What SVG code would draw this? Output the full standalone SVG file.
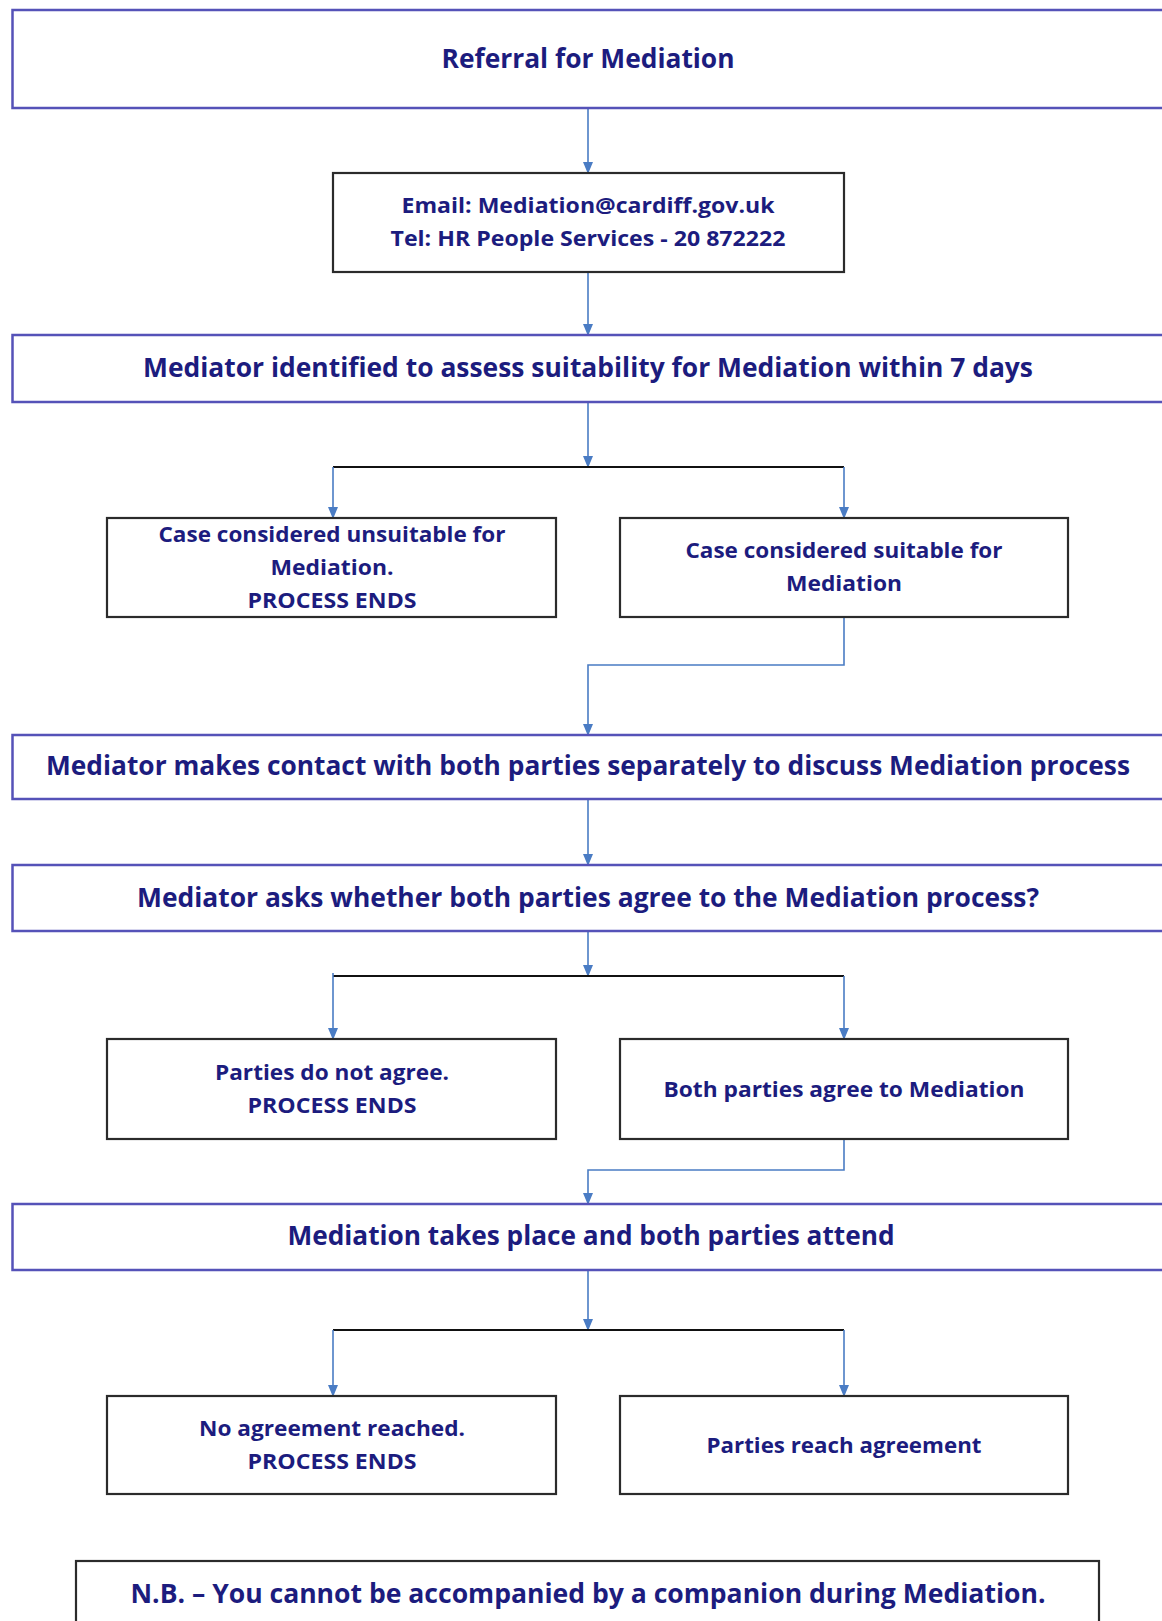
<svg xmlns="http://www.w3.org/2000/svg" width="1162" height="1621" viewBox="0 0 1162 1621">
<defs>
<style>
.wide{fill:#fff;stroke:#5552b8;stroke-width:2.5}
.box{fill:#fff;stroke:#2b2b2b;stroke-width:2.2}
.t{font-family:"Open Sans","Noto Sans","Liberation Sans",sans-serif;font-weight:700;fill:#1c1c7e;text-anchor:middle}
.big{font-size:26px}
.sm{font-size:21px}
.c{fill:none;stroke:#4a7cc4;stroke-width:1.6}
.bar{fill:none;stroke:#111;stroke-width:2.2}
</style>
<marker id="a" viewBox="0 0 12 10" refX="10" refY="5" markerWidth="12" markerHeight="10" markerUnits="userSpaceOnUse" orient="auto">
<path d="M0,0 L12,5 L0,10 Z" fill="#4a7cc4"/>
</marker>
</defs>

<g id="connectors">
<path class="c" d="M588,109 V172" marker-end="url(#a)"/>
<path class="c" d="M588,273 V334" marker-end="url(#a)"/>
<path class="c" d="M588,403 V466" marker-end="url(#a)"/>
<path class="bar" d="M333,467 H844"/>
<path class="c" d="M333,467 V517" marker-end="url(#a)"/>
<path class="c" d="M844,467 V517" marker-end="url(#a)"/>
<path class="c" d="M844,618 V665 H588 V734" marker-end="url(#a)"/>
<path class="c" d="M588,800 V864" marker-end="url(#a)"/>
<path class="c" d="M588,932 V975" marker-end="url(#a)"/>
<path class="bar" d="M333,976 H844"/>
<path class="c" d="M333,973 V1038" marker-end="url(#a)"/>
<path class="c" d="M844,976 V1038" marker-end="url(#a)"/>
<path class="c" d="M844,1140 V1170 H588 V1203" marker-end="url(#a)"/>
<path class="c" d="M588,1271 V1329" marker-end="url(#a)"/>
<path class="bar" d="M333,1330 H844"/>
<path class="c" d="M333,1330 V1395" marker-end="url(#a)"/>
<path class="c" d="M844,1330 V1395" marker-end="url(#a)"/>
</g>

<g id="referral">
<rect class="wide" x="12.5" y="10" width="1170" height="98"/>
<text class="t big" x="588" y="68" textLength="293" lengthAdjust="spacingAndGlyphs">Referral for Mediation</text>
</g>

<g id="contact">
<rect class="box" x="333" y="173" width="511" height="99"/>
<text class="t sm" x="588" y="213" textLength="373" lengthAdjust="spacingAndGlyphs">Email: Mediation@cardiff.gov.uk</text>
<text class="t sm" x="588" y="246" textLength="395" lengthAdjust="spacingAndGlyphs">Tel: HR People Services - 20 872222</text>
</g>

<g id="mediator-identified">
<rect class="wide" x="12.5" y="335" width="1170" height="67"/>
<text class="t big" x="588" y="377" textLength="890" lengthAdjust="spacingAndGlyphs">Mediator identified to assess suitability for Mediation within 7 days</text>
</g>

<g id="unsuitable">
<rect class="box" x="107" y="518" width="449" height="99"/>
<text class="t sm" x="332" y="542" textLength="347" lengthAdjust="spacingAndGlyphs">Case considered unsuitable for</text>
<text class="t sm" x="332" y="575" textLength="123" lengthAdjust="spacingAndGlyphs">Mediation.</text>
<text class="t sm" x="332" y="608" textLength="169" lengthAdjust="spacingAndGlyphs">PROCESS ENDS</text>
</g>

<g id="suitable">
<rect class="box" x="620" y="518" width="448" height="99"/>
<text class="t sm" x="844" y="558" textLength="317" lengthAdjust="spacingAndGlyphs">Case considered suitable for</text>
<text class="t sm" x="844" y="591" textLength="116" lengthAdjust="spacingAndGlyphs">Mediation</text>
</g>

<g id="contact-parties">
<rect class="wide" x="12.5" y="735" width="1170" height="64"/>
<text class="t big" x="588" y="775" textLength="1084" lengthAdjust="spacingAndGlyphs">Mediator makes contact with both parties separately to discuss Mediation process</text>
</g>

<g id="asks-agree">
<rect class="wide" x="12.5" y="865" width="1170" height="66"/>
<text class="t big" x="588" y="907" textLength="902" lengthAdjust="spacingAndGlyphs">Mediator asks whether both parties agree to the Mediation process?</text>
</g>

<g id="not-agree">
<rect class="box" x="107" y="1039" width="449" height="100"/>
<text class="t sm" x="332" y="1080" textLength="234" lengthAdjust="spacingAndGlyphs">Parties do not agree.</text>
<text class="t sm" x="332" y="1113" textLength="169" lengthAdjust="spacingAndGlyphs">PROCESS ENDS</text>
</g>

<g id="both-agree">
<rect class="box" x="620" y="1039" width="448" height="100"/>
<text class="t sm" x="844" y="1097" textLength="361" lengthAdjust="spacingAndGlyphs">Both parties agree to Mediation</text>
</g>

<g id="mediation-takes-place">
<rect class="wide" x="12.5" y="1204" width="1170" height="66"/>
<text class="t big" x="591" y="1245" textLength="607" lengthAdjust="spacingAndGlyphs">Mediation takes place and both parties attend</text>
</g>

<g id="no-agreement">
<rect class="box" x="107" y="1396" width="449" height="98"/>
<text class="t sm" x="332" y="1436" textLength="266" lengthAdjust="spacingAndGlyphs">No agreement reached.</text>
<text class="t sm" x="332" y="1469" textLength="169" lengthAdjust="spacingAndGlyphs">PROCESS ENDS</text>
</g>

<g id="reach-agreement">
<rect class="box" x="620" y="1396" width="448" height="98"/>
<text class="t sm" x="844" y="1453" textLength="275" lengthAdjust="spacingAndGlyphs">Parties reach agreement</text>
</g>

<g id="note">
<rect class="box" x="76" y="1561" width="1023" height="80"/>
<text class="t big" x="588" y="1603" textLength="915" lengthAdjust="spacingAndGlyphs">N.B. – You cannot be accompanied by a companion during Mediation.</text>
</g>
</svg>
